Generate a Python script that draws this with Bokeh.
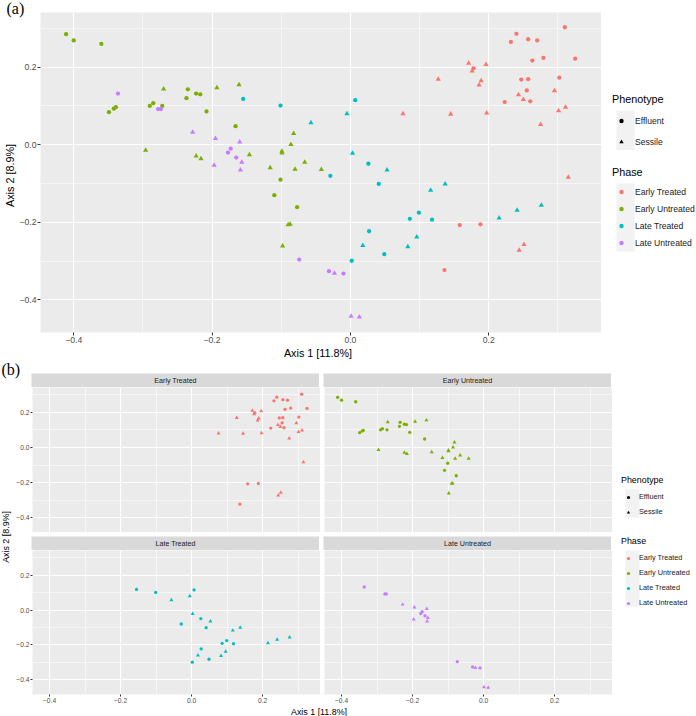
import math
import pandas as pd
from bokeh.plotting import figure
from bokeh.layouts import row, column
from bokeh.models import (Range1d, FixedTicker, Legend, LegendItem, Label,
                          ColumnDataSource)
from bokeh.embed import file_html
from bokeh.resources import INLINE

# ---------------- data ----------------
phases = ["Early Treated", "Early Untreated", "Late Treated", "Late Untreated"]
phase_colors = ["#F8766D", "#7CAE00", "#00BFC4", "#C77CFF"]
phenotypes = ["Effluent", "Sessile"]
phenotype_markers = ["circle", "triangle"]

tick_values = [-0.4, -0.2, 0.0, 0.2]
tick_labels = ["\u22120.4", "\u22120.2", "0.0", "0.2"]
minor_tick_values = [-0.5, -0.3, -0.1, 0.1, 0.3]

x_title = "Axis 1   [11.8%]"
y_title = "Axis 2   [8.9%]"

early_treated_effluent_x = [0.310, 0.240, 0.232, 0.257, 0.270, 0.263, 0.279, 0.325, 0.178,
                            0.247, 0.257, 0.302, 0.255, 0.223, 0.260, 0.158, 0.188, 0.136]
early_treated_effluent_y = [0.303, 0.286, 0.265, 0.272, 0.269, 0.217, 0.224, 0.222, 0.197,
                            0.168, 0.169, 0.173, 0.140, 0.110, 0.112, -0.207, -0.205, -0.323]
early_treated_sessile_x = [0.171, 0.196, 0.176, 0.127, 0.189, 0.186, 0.295, 0.243, 0.250,
                           0.076, 0.145, 0.197, 0.301, 0.311, 0.275, 0.315, 0.251, 0.244]
early_treated_sessile_y = [0.210, 0.207, 0.190, 0.169, 0.165, 0.154, 0.139, 0.129, 0.117,
                           0.080, 0.079, 0.082, 0.088, 0.097, 0.052, -0.084, -0.257, -0.272]

early_untreated_effluent_x = [-0.411, -0.400, -0.360, -0.349, -0.342, -0.339, -0.290, -0.285, -0.272,
                              -0.237, -0.235, -0.223, -0.217, -0.208, -0.166, -0.101, -0.110, -0.077]
early_untreated_effluent_y = [0.285, 0.269, 0.260, 0.084, 0.093, 0.097, 0.100, 0.107, 0.100,
                              0.120, 0.143, 0.132, 0.130, 0.086, 0.048, -0.090, -0.130, -0.161]
early_untreated_sessile_x = [-0.270, -0.296, -0.193, -0.161, -0.223, -0.216, -0.146, -0.116, -0.099,
                             -0.099, -0.082, -0.086, -0.080, -0.066, -0.042, -0.090, -0.087, -0.098]
early_untreated_sessile_y = [0.144, -0.014, 0.147, 0.155, -0.029, -0.036, -0.026, -0.059, -0.017,
                             -0.021, 0.029, 0.001, -0.063, -0.045, -0.064, -0.206, -0.205, -0.261]

late_treated_effluent_x = [-0.155, -0.101, 0.007, -0.029, 0.026, 0.041, 0.099, 0.086, 0.118,
                           0.027, 0.049, 0.002]
late_treated_effluent_y = [0.118, 0.101, 0.115, -0.080, -0.049, -0.101, -0.175, -0.191, -0.193,
                           -0.223, -0.282, -0.299]
late_treated_sessile_x = [-0.057, -0.005, 0.003, 0.053, 0.116, 0.137, 0.215, 0.241, 0.276,
                          0.018, 0.096, 0.083]
late_treated_sessile_y = [0.057, 0.080, -0.022, -0.065, -0.117, -0.101, -0.189, -0.169, -0.156,
                          -0.260, -0.238, -0.263]

late_untreated_effluent_x = [-0.336, -0.278, -0.274, -0.177, -0.173, -0.165, -0.074, -0.031, -0.010]
late_untreated_effluent_y = [0.132, 0.092, 0.092, -0.020, -0.010, -0.033, -0.296, -0.326, -0.332]
late_untreated_sessile_x = [-0.228, -0.195, -0.160, -0.197, -0.157, -0.159, -0.023, 0.001, 0.013]
late_untreated_sessile_y = [0.032, 0.016, 0.007, -0.053, -0.045, -0.065, -0.331, -0.442, -0.444]

series = {
    ("Early Treated", "Effluent"): (early_treated_effluent_x, early_treated_effluent_y),
    ("Early Treated", "Sessile"): (early_treated_sessile_x, early_treated_sessile_y),
    ("Early Untreated", "Effluent"): (early_untreated_effluent_x, early_untreated_effluent_y),
    ("Early Untreated", "Sessile"): (early_untreated_sessile_x, early_untreated_sessile_y),
    ("Late Treated", "Effluent"): (late_treated_effluent_x, late_treated_effluent_y),
    ("Late Treated", "Sessile"): (late_treated_sessile_x, late_treated_sessile_y),
    ("Late Untreated", "Effluent"): (late_untreated_effluent_x, late_untreated_effluent_y),
    ("Late Untreated", "Sessile"): (late_untreated_sessile_x, late_untreated_sessile_y),
}

rows = []
for (ph, pt), (xs, ys) in series.items():
    for xv, yv in zip(xs, ys):
        rows.append({"x": xv, "y": yv, "phase": ph, "phenotype": pt})
df = pd.DataFrame(rows)

# ---------------- styling ----------------
FONT = "Liberation Sans"
SERIF = "Liberation Serif"
PANEL_BG = "#EBEBEB"
STRIP_BG = "#D9D9D9"
KEY_BG = "#F2F2F2"
X_RANGE = (-0.448, 0.363)
Y_RANGE = (-0.484, 0.341)
LEG_INSET = 4   # horizontal inset Bokeh applies inside a legend box


def style_grids(p):
    for g in (p.xgrid, p.ygrid):
        g.ticker = FixedTicker(ticks=tick_values, minor_ticks=minor_tick_values)
        g.grid_line_color = "white"
        g.grid_line_width = 1.1
        g.minor_grid_line_color = "white"
        g.minor_grid_line_width = 0.55


def style_axis(ax, tick_len, label_px, title_px):
    ax.ticker = FixedTicker(ticks=tick_values, minor_ticks=minor_tick_values)
    ax.major_label_overrides = dict(zip(tick_values, tick_labels))
    ax.major_tick_out = tick_len
    ax.major_tick_in = 0
    ax.minor_tick_out = 0
    ax.minor_tick_in = 0
    ax.axis_line_color = None
    ax.major_tick_line_color = "#333333"
    ax.major_label_text_color = "#4D4D4D"
    ax.major_label_text_font = FONT
    ax.major_label_text_font_size = label_px
    ax.major_label_standoff = 1
    ax.axis_label_text_font = FONT
    ax.axis_label_text_font_size = title_px
    ax.axis_label_text_font_style = "normal"
    ax.axis_label_text_color = "black"
    ax.axis_label_standoff = 1


def panel_tag(p, text, offset):
    # "(a)" / "(b)" tag drawn in the top border of a figure
    p.title.text = text
    p.title.align = "left"
    p.title.vertical_align = "top"
    p.title.offset = offset
    p.title.standoff = -12
    p.title.text_font = SERIF
    p.title.text_font_size = "16px"
    p.title.text_font_style = "normal"
    p.title.text_color = "black"


def add_points(p, phase_list, circle_size, tri_size):
    for ph, col in zip(phases, phase_colors):
        if ph not in phase_list:
            continue
        for pt, mk in zip(phenotypes, phenotype_markers):
            sub = df[(df.phase == ph) & (df.phenotype == pt)]
            p.scatter("x", "y", source=ColumnDataSource(sub), marker=mk,
                      size=circle_size if mk == "circle" else tri_size,
                      fill_color=col, line_color=None)


def legend_fig(width, height, top, left, title, entries, title_px, label_px,
               gw, gh, spacing, standoff, label_standoff, title_h, label_h):
    left = left - LEG_INSET
    fw = width - left
    fh = height - top
    lf = figure(width=width, height=height, x_range=Range1d(0, fw), y_range=Range1d(-fh, 0),
                toolbar_location=None, output_backend="svg",
                x_axis_location=None, y_axis_location=None,
                min_border_left=left, min_border_top=top, min_border_right=0, min_border_bottom=0,
                outline_line_color=None, background_fill_color="white", border_fill_color="white")
    lf.grid.visible = False
    item_h = max(gh, label_h)
    pitch = item_h + spacing
    c1 = title_h + standoff + item_h / 2
    cn = c1 + (len(entries) - 1) * pitch
    lf.quad(left=LEG_INSET, right=LEG_INSET + gw, top=-(c1 - pitch / 2), bottom=-(cn + pitch / 2),
            fill_color=KEY_BG, line_color=None)
    items = []
    for lab, mk, col in entries:
        # placeholder renderer (NaN position) so the legend can draw its key
        r = lf.scatter(x=[float("nan")], y=[float("nan")], marker=mk,
                       fill_color=col, line_color=None)
        items.append(LegendItem(label=lab, renderers=[r]))
    leg = Legend(items=items, location="top_left", title=title,
                 title_text_font=FONT, title_text_font_size=title_px,
                 title_text_font_style="normal", title_text_color="black",
                 title_standoff=standoff,
                 label_text_font=FONT, label_text_font_size=label_px, label_text_color="#1A1A1A",
                 glyph_width=gw, glyph_height=gh, spacing=spacing,
                 label_standoff=label_standoff, label_height=label_h, label_width=10,
                 padding=0, margin=0, border_line_color=None, background_fill_alpha=0)
    lf.add_layout(leg)
    return lf


# ---------------- panel (a) ----------------
pa = figure(frame_width=561, frame_height=320,
            x_range=Range1d(*X_RANGE), y_range=Range1d(*Y_RANGE),
            toolbar_location=None, output_backend="svg",
            min_border_left=35, min_border_right=0, min_border_top=12, min_border_bottom=28,
            background_fill_color=PANEL_BG, border_fill_color="white", outline_line_color=None,
            x_axis_label=x_title, y_axis_label=y_title)
style_grids(pa)
style_axis(pa.xaxis[0], 3, "8.6px", "10.8px")
style_axis(pa.yaxis[0], 3, "8.6px", "10.8px")
add_points(pa, phases, 4.3, 5.2)
panel_tag(pa, "(a)", -34)

pheno_entries = [(pt, mk, "black") for pt, mk in zip(phenotypes, phenotype_markers)]
phase_entries = [(ph, "circle", c) for ph, c in zip(phases, phase_colors)]

lp_a = legend_fig(100, 150, 93, 15, "Phenotype", pheno_entries, "10.8px", "8.6px",
                  18, 11, 10, 10, 5, 12.1, 11)
ph_a = legend_fig(100, 210, 16, 15, "Phase", phase_entries, "10.8px", "8.6px",
                  18, 11, 6, 8, 5, 12.1, 11)

row_a = row(pa, column(lp_a, ph_a))

# ---------------- panel (b) ----------------
FW = 288


def strip_fig(text, left, top, tag=None):
    s = figure(frame_width=FW, frame_height=14, x_range=Range1d(0, 1), y_range=Range1d(0, 1),
               toolbar_location=None, output_backend="svg",
               x_axis_location=None, y_axis_location=None,
               min_border_left=left, min_border_top=top, min_border_right=0, min_border_bottom=0,
               background_fill_color=STRIP_BG, border_fill_color="white", outline_line_color=None)
    s.grid.visible = False
    s.add_layout(Label(x=0.5, y=0.5, text=text, text_align="center", text_baseline="middle",
                       text_font=FONT, text_font_size="7.1px", text_color="#1A1A1A"))
    if tag:
        panel_tag(s, tag, -(left - 1))
    return s


def facet_fig(phase, left_axis, bottom_axis, fh):
    f = figure(frame_width=FW, frame_height=fh,
               x_range=Range1d(*X_RANGE), y_range=Range1d(*Y_RANGE),
               toolbar_location=None, output_backend="svg",
               x_axis_location="below" if bottom_axis else None,
               y_axis_location="left" if left_axis else None,
               min_border_left=18 if left_axis else 4, min_border_right=0,
               min_border_top=0, min_border_bottom=12 if bottom_axis else 0,
               background_fill_color=PANEL_BG, border_fill_color="white", outline_line_color=None)
    style_grids(f)
    for ax in f.xaxis + f.yaxis:
        style_axis(ax, 2, "6.7px", "8.9px")
    add_points(f, [phase], 3.3, 4.0)
    return f


s1l = strip_fig(phases[0], 31, 12, tag="(b)")
s1r = strip_fig(phases[1], 4, 12)
f_et = facet_fig(phases[0], True, False, 145)
f_eu = facet_fig(phases[1], False, False, 145)
s2l = strip_fig(phases[2], 18, 4)
s2r = strip_fig(phases[3], 4, 4)
f_lt = facet_fig(phases[2], True, True, 144)
f_lu = facet_fig(phases[3], False, True, 144)

xlab_b = figure(frame_width=2 * FW + 4, frame_height=11, x_range=Range1d(0, 1), y_range=Range1d(0, 1),
                toolbar_location=None, output_backend="svg",
                x_axis_location=None, y_axis_location=None,
                min_border_left=18, min_border_right=0, min_border_top=0, min_border_bottom=0,
                background_fill_color="white", border_fill_color="white", outline_line_color=None)
xlab_b.grid.visible = False
xlab_b.add_layout(Label(x=0.5, y=0.55, text=x_title, text_align="center", text_baseline="middle",
                        text_font=FONT, text_font_size="8.9px", text_color="black"))

YLAB_H = 145 + 18 + 156 + 11
ylab_b = figure(frame_width=13, frame_height=YLAB_H, x_range=Range1d(0, 1), y_range=Range1d(0, YLAB_H),
                toolbar_location=None, output_backend="svg",
                x_axis_location=None, y_axis_location=None,
                min_border_left=0, min_border_right=0, min_border_top=0, min_border_bottom=0,
                background_fill_color="white", border_fill_color="white", outline_line_color=None)
ylab_b.grid.visible = False
ylab_b.add_layout(Label(x=0.45, y=183, text=y_title, angle=math.pi / 2,
                        text_align="center", text_baseline="middle",
                        text_font=FONT, text_font_size="8.9px", text_color="black"))

lp_b = legend_fig(85, 160, 114, 13, "Phenotype", pheno_entries, "8.9px", "7.3px",
                  14, 8, 6, 7, 4, 9.9, 8)
ph_b = legend_fig(85, 196, 15, 13, "Phase", phase_entries, "8.9px", "7.3px",
                  14, 8, 6, 7, 4, 9.9, 8)

grid_b = column(row(f_et, f_eu), row(s2l, s2r), row(f_lt, f_lu), xlab_b)
left_b = column(row(s1l, s1r), row(ylab_b, grid_b))
row_b = row(left_b, column(lp_b, ph_b))

layout = column(row_a, row_b)

open("out.html", "w").write(file_html(layout, INLINE))
